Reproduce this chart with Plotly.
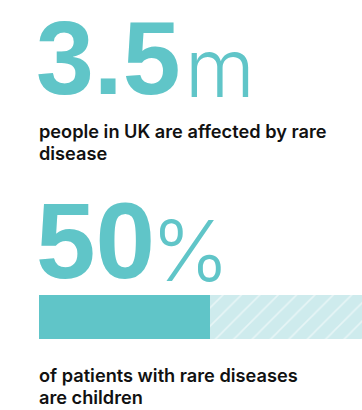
import plotly.graph_objects as go

W, H = 362, 410
TEAL = "rgb(96,197,200)"
LIGHT = "rgb(206,235,237)"

# data
stat1_value = "3.5"
stat1_unit = "m"
stat1_caption = ["people in UK are affected by rare", "disease"]
stat2_value = "50"
stat2_unit = "%"
stat2_caption = ["of patients with rare diseases", "are children"]
share_children = [50]
share_rest = [50]
categories = ["patients"]

fig = go.Figure()
fig.add_trace(go.Bar(y=categories, x=share_children, orientation="h",
                     marker=dict(color=TEAL, line=dict(width=0)),
                     hoverinfo="skip", showlegend=False))
fig.add_trace(go.Bar(y=categories, x=share_rest, orientation="h",
                     marker=dict(color=LIGHT, line=dict(width=0),
                                 pattern=dict(shape="/", fgcolor="white", bgcolor=LIGHT,
                                              size=13, solidity=0.12)),
                     hoverinfo="skip", showlegend=False))

def px(x):
    return x / W

def py(y):
    return 1 - y / H

ann = []
def add(text, x, y, size, weight, family, color="#111"):
    ann.append(dict(text=text, x=px(x), y=py(y), xref="paper", yref="paper",
                    xanchor="left", yanchor="middle", showarrow=False,
                    font=dict(size=size, color=color, family=family, weight=weight)))

add(stat1_value, 34, 58, 104, 700, "Liberation Sans", TEAL)
add(stat1_unit, 183, 67, 80, 300, "Inter", TEAL)
add(stat1_caption[0], 37, 131, 18.2, 600, "Inter")
add(stat1_caption[1], 37, 152.5, 18.2, 600, "Inter")
add(stat2_value, 34, 241, 107, 700, "Liberation Sans", TEAL)
add(stat2_unit, 149, 250, 84, 300, "Inter", TEAL)
add(stat2_caption[0], 37, 375, 18.2, 600, "Inter")
add(stat2_caption[1], 37, 396.5, 18.2, 600, "Inter")

fig.update_layout(
    width=W, height=H, margin=dict(l=0, r=0, t=0, b=0),
    paper_bgcolor="white", plot_bgcolor="white",
    barmode="stack", bargap=0,
    annotations=ann,
    xaxis=dict(domain=[39 / W, 1], range=[0, 50 * (W - 39) / (210 - 39)],
               visible=False, fixedrange=True),
    yaxis=dict(domain=[1 - 339 / H, 1 - 295 / H], visible=False, fixedrange=True),
)
fig.write_html("out.html", config={"displayModeBar": False})
